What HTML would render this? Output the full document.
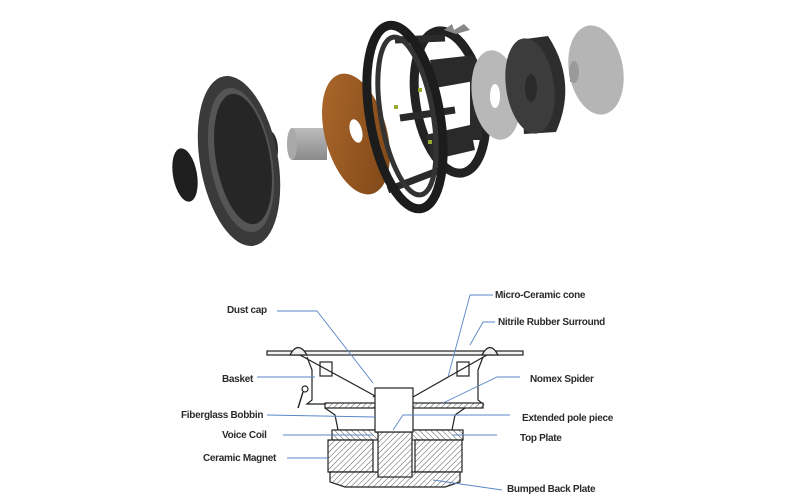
<!DOCTYPE html>
<html><head><meta charset="utf-8"><style>
html,body{margin:0;padding:0;background:#fff;width:800px;height:500px;overflow:hidden}
svg{display:block}
text{font-family:"Liberation Sans",sans-serif;font-size:10px;fill:#2b2b2b;font-weight:bold;letter-spacing:-0.3px}
</style></head><body>
<svg width="800" height="500" viewBox="0 0 800 500" xmlns="http://www.w3.org/2000/svg">
<defs>
<pattern id="h" width="4" height="4" patternUnits="userSpaceOnUse" patternTransform="rotate(45)">
<rect width="4" height="4" fill="#fff"/><line x1="0" y1="0" x2="0" y2="4" stroke="#444" stroke-width="0.9"/></pattern>
<pattern id="h2" width="4" height="4" patternUnits="userSpaceOnUse" patternTransform="rotate(-45)">
<rect width="4" height="4" fill="#fff"/><line x1="0" y1="0" x2="0" y2="4" stroke="#444" stroke-width="0.9"/></pattern>
<linearGradient id="cu" x1="0" y1="0" x2="1" y2="1"><stop offset="0" stop-color="#b06a2c"/><stop offset="1" stop-color="#7a4416"/></linearGradient>
<linearGradient id="gr" x1="0" y1="0" x2="0" y2="1"><stop offset="0" stop-color="#bdbdbd"/><stop offset="1" stop-color="#8a8a8a"/></linearGradient>
</defs>

<!-- dust cap -->
<ellipse cx="185" cy="175" rx="12" ry="27" transform="rotate(-10 185 175)" fill="#1e1e1e"/>
<!-- cone -->
<ellipse cx="268" cy="150" rx="10" ry="20" fill="#2a2a2a"/>
<ellipse cx="239" cy="161" rx="39" ry="86" transform="rotate(-10 239 161)" fill="#3a3a3a"/>
<ellipse cx="241" cy="160" rx="31" ry="73" transform="rotate(-10 241 160)" fill="#555"/>
<ellipse cx="243" cy="159" rx="27" ry="66" transform="rotate(-10 243 159)" fill="#262626"/>
<!-- pole cylinder -->
<rect x="292" y="128" width="35" height="32" fill="url(#gr)"/>
<ellipse cx="292" cy="144" rx="5" ry="16" fill="#a9a9a9"/>
<!-- copper spider -->
<ellipse cx="356" cy="134" rx="31" ry="62" transform="rotate(-15 356 134)" fill="url(#cu)"/>
<ellipse cx="356" cy="131" rx="6" ry="12" transform="rotate(-15 356 131)" fill="#fff"/>
<!-- basket -->
<ellipse cx="450" cy="102" rx="34" ry="72" transform="rotate(-10 450 102)" fill="none" stroke="#222" stroke-width="9"/>
<path d="M430 60 L475 55 L480 80 L435 88 Z M425 135 L470 125 L475 150 L432 160 Z" fill="#2a2a2a"/>
<rect x="470" y="70" width="12" height="70" fill="#2a2a2a"/>
<path d="M395 40 L445 38 M388 190 L440 170 M400 118 L455 110" stroke="#2a2a2a" stroke-width="7"/>
<ellipse cx="405" cy="117" rx="35" ry="93" transform="rotate(-10 405 117)" fill="none" stroke="#1c1c1c" stroke-width="9"/>
<ellipse cx="407" cy="116" rx="26" ry="80" transform="rotate(-10 407 116)" fill="none" stroke="#333" stroke-width="5"/>
<rect x="418" y="88" width="4" height="4" fill="#9a3"/><rect x="428" y="140" width="4" height="4" fill="#9a3"/><rect x="394" y="105" width="4" height="4" fill="#9a3"/>
<path d="M444 30 l8 -6 l2 6 l10 -6 l6 6 l-14 4 z" fill="#888"/>
<!-- top plate -->
<ellipse cx="496" cy="95" rx="24" ry="45" transform="rotate(-8 496 95)" fill="#b8b8b8"/>
<ellipse cx="495" cy="96" rx="5" ry="12" fill="#fff"/>
<!-- magnet -->
<path d="M518 40 L548 36 Q578 82 556 132 L524 134 Z" fill="#2d2d2d"/>
<ellipse cx="530" cy="86" rx="24" ry="48" transform="rotate(-8 530 86)" fill="#3c3c3c"/>
<ellipse cx="531" cy="88" rx="6" ry="14" fill="#2a2a2a"/>
<!-- back plate -->
<rect x="570" y="60" width="25" height="22" fill="#8e8e8e"/>
<ellipse cx="596" cy="70" rx="27" ry="45" transform="rotate(-10 596 70)" fill="#b5b5b5"/>
<ellipse cx="574" cy="72" rx="5" ry="11" fill="#9a9a9a"/>

<!-- cross section -->
<g stroke="#222" stroke-width="1.2" fill="none">
<rect x="267" y="351" width="256" height="4" fill="#f2f2f2"/>
<path d="M290 355 Q298 340 307 355 Z" fill="#eee"/>
<path d="M482 355 Q490 340 498 355 Z" fill="#eee"/>
<line x1="300" y1="355" x2="377" y2="397"/>
<line x1="487" y1="355" x2="413" y2="397"/>
<path d="M307 357 L312 370 L312 400 L307 404 L325 404"/>
<path d="M483 357 L478 370 L478 400 L483 404 L465 404"/>
<rect x="320" y="362" width="12" height="14"/><rect x="457" y="362" width="12" height="14"/>
<rect x="325" y="403" width="158" height="5" fill="url(#h)"/>
<path d="M325 408 L335 415 L338 430 L452 430 L455 415 L465 408"/>
<path d="M373 397 Q393 385 413 397"/>
<rect x="332" y="430" width="131" height="10" fill="url(#h2)"/>
<path d="M328 440 L373 440 L373 472 L328 472 Z" fill="url(#h)"/>
<path d="M415 440 L462 440 L462 472 L415 472 Z" fill="url(#h)"/>
<path d="M330 472 L460 472 L460 482 L445 487 L345 487 L330 482 Z" fill="url(#h)"/>
<rect x="378" y="432" width="34" height="45" fill="url(#h)"/>
<rect x="375" y="388" width="38" height="44" fill="#fff"/>
<path d="M303 392 l-5 16" stroke-width="1.4"/><circle cx="305" cy="389" r="3"/>
</g>

<g stroke="#5b86c8" stroke-width="0.9" fill="none">
<polyline points="277,311 317,311 373,383"/>
<polyline points="493,295 470,295 448,377"/>
<polyline points="495,322 483,322 470,345"/>
<polyline points="257,377 315,377"/>
<polyline points="520,377 497,377 443,403"/>
<polyline points="267,415 375,417"/>
<polyline points="510,415 403,415 393,430"/>
<polyline points="283,435 373,435"/>
<polyline points="497,435 453,435"/>
<polyline points="287,458 328,458"/>
<polyline points="502,490 433,480"/>
</g>

<text x="227" y="313">Dust cap</text>
<text x="495" y="298">Micro-Ceramic cone</text>
<text x="498" y="325">Nitrile Rubber Surround</text>
<text x="222" y="382">Basket</text>
<text x="530" y="382">Nomex Spider</text>
<text x="181" y="418">Fiberglass Bobbin</text>
<text x="522" y="421">Extended pole piece</text>
<text x="222" y="438">Voice Coil</text>
<text x="520" y="441">Top Plate</text>
<text x="203" y="461">Ceramic Magnet</text>
<text x="507" y="492">Bumped Back Plate</text>
</svg>
</body></html>
